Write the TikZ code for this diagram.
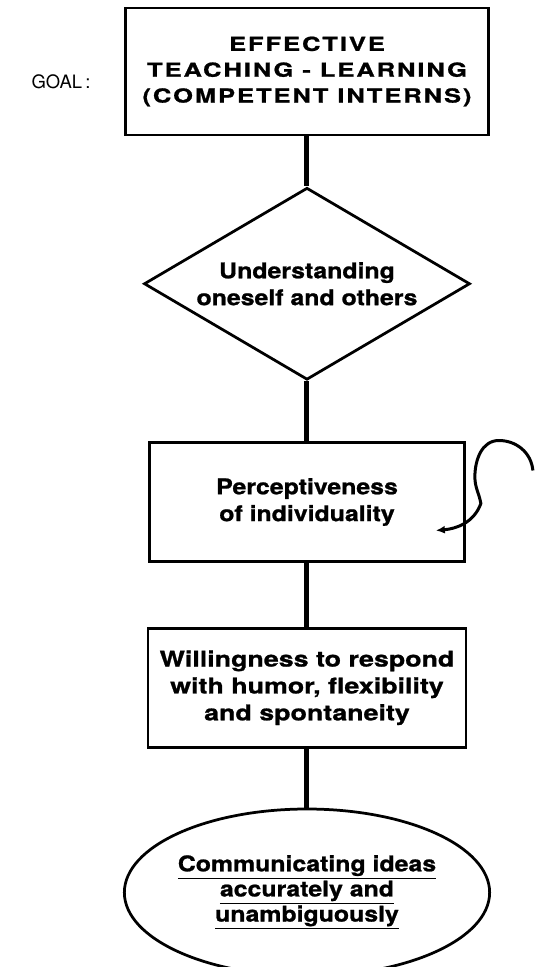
\documentclass[tikz,border=0pt]{standalone}
\usepackage{fontspec}
\setmainfont{TeX Gyre Heros}
\newfontfamily\capsfont[FakeStretch=1.32,LetterSpace=10,BoldFeatures={FakeBold=1}]{TeX Gyre Heros}
\newfontfamily\labfont[FakeStretch=1.15,BoldFeatures={FakeBold=1}]{TeX Gyre Heros}
\newfontfamily\widefont[FakeStretch=1.24,BoldFeatures={FakeBold=1}]{TeX Gyre Heros}
\usetikzlibrary{arrows.meta,positioning,shapes.geometric}
\tikzset{
  fbox/.style={draw, line width=0.55mm, align=center, inner sep=2pt,
               font=\labfont\bfseries\fontsize{12.3}{15.3}\selectfont},
  ngoal/.style={fbox, minimum width=72.6mm, minimum height=25.4mm,
                font=\capsfont\bfseries\fontsize{11}{14.7}\selectfont},
  ndia/.style={fbox, diamond, aspect=1.7, inner sep=0pt, minimum width=65.2mm, minimum height=38.4mm},
  nbox/.style={fbox, minimum width=63mm, minimum height=23.8mm},
  noval/.style={fbox, ellipse, inner sep=0pt, minimum width=64.2mm, minimum height=33.4mm,
                font=\labfont\bfseries\fontsize{12.3}{14.3}\selectfont},
  link/.style={line width=1mm},
  curl/.style={-{Latex[length=1.8mm,width=1.6mm]}, line width=0.6mm},
}

\begin{document}
\begin{tikzpicture}[node distance=10mm]
  \useasboundingbox (-61.4mm,14.3mm) rectangle (45.6mm,-179.1mm);
  \node[ngoal] (goal) at (0,0) {EFFECTIVE\\TEACHING - LEARNING\\(COMPETENT INTERNS)};
  \node[left=5.5mm of goal, font=\fontsize{10.5}{13}\selectfont, yshift=-2mm] (goallab) {GOAL\,:};
  \node[ndia, below=10mm of goal] (self) {Understanding\\oneself and others};
  \node[nbox, below=12mm of self] (percep) {Perceptiveness\\of individuality};
  \node[nbox, minimum width=63.6mm, below=12.8mm of percep,
        font=\widefont\bfseries\fontsize{12.3}{15.3}\selectfont] (respond)
        {Willingness to respond\\with humor, flexibility\\and spontaneity};
  \node[noval, below=11.8mm of respond] (ideas)
        {\underline{Communicating ideas}\\\underline{accurately and}\\\underline{unambiguously}};
  \draw[link] (goal) -- (self);
  \draw[link] (self) -- (percep);
  \draw[link] (percep) -- (respond);
  \draw[link] (respond) -- (ideas);
  % loop back into the box
  \coordinate[above right=6.3mm and 13.4mm of percep.east] (loopin);
  \coordinate[below left=5.7mm and 6mm of percep.east] (loopout);
  \draw[curl] (loopin) to[out=95,in=0] ++(-6.8mm,6mm) to[out=180,in=90] ++(-4.8mm,-7.3mm)
    to[out=270,in=100] ++(1.2mm,-5.3mm) to[out=250,in=5] (loopout);
\end{tikzpicture}
\end{document}
